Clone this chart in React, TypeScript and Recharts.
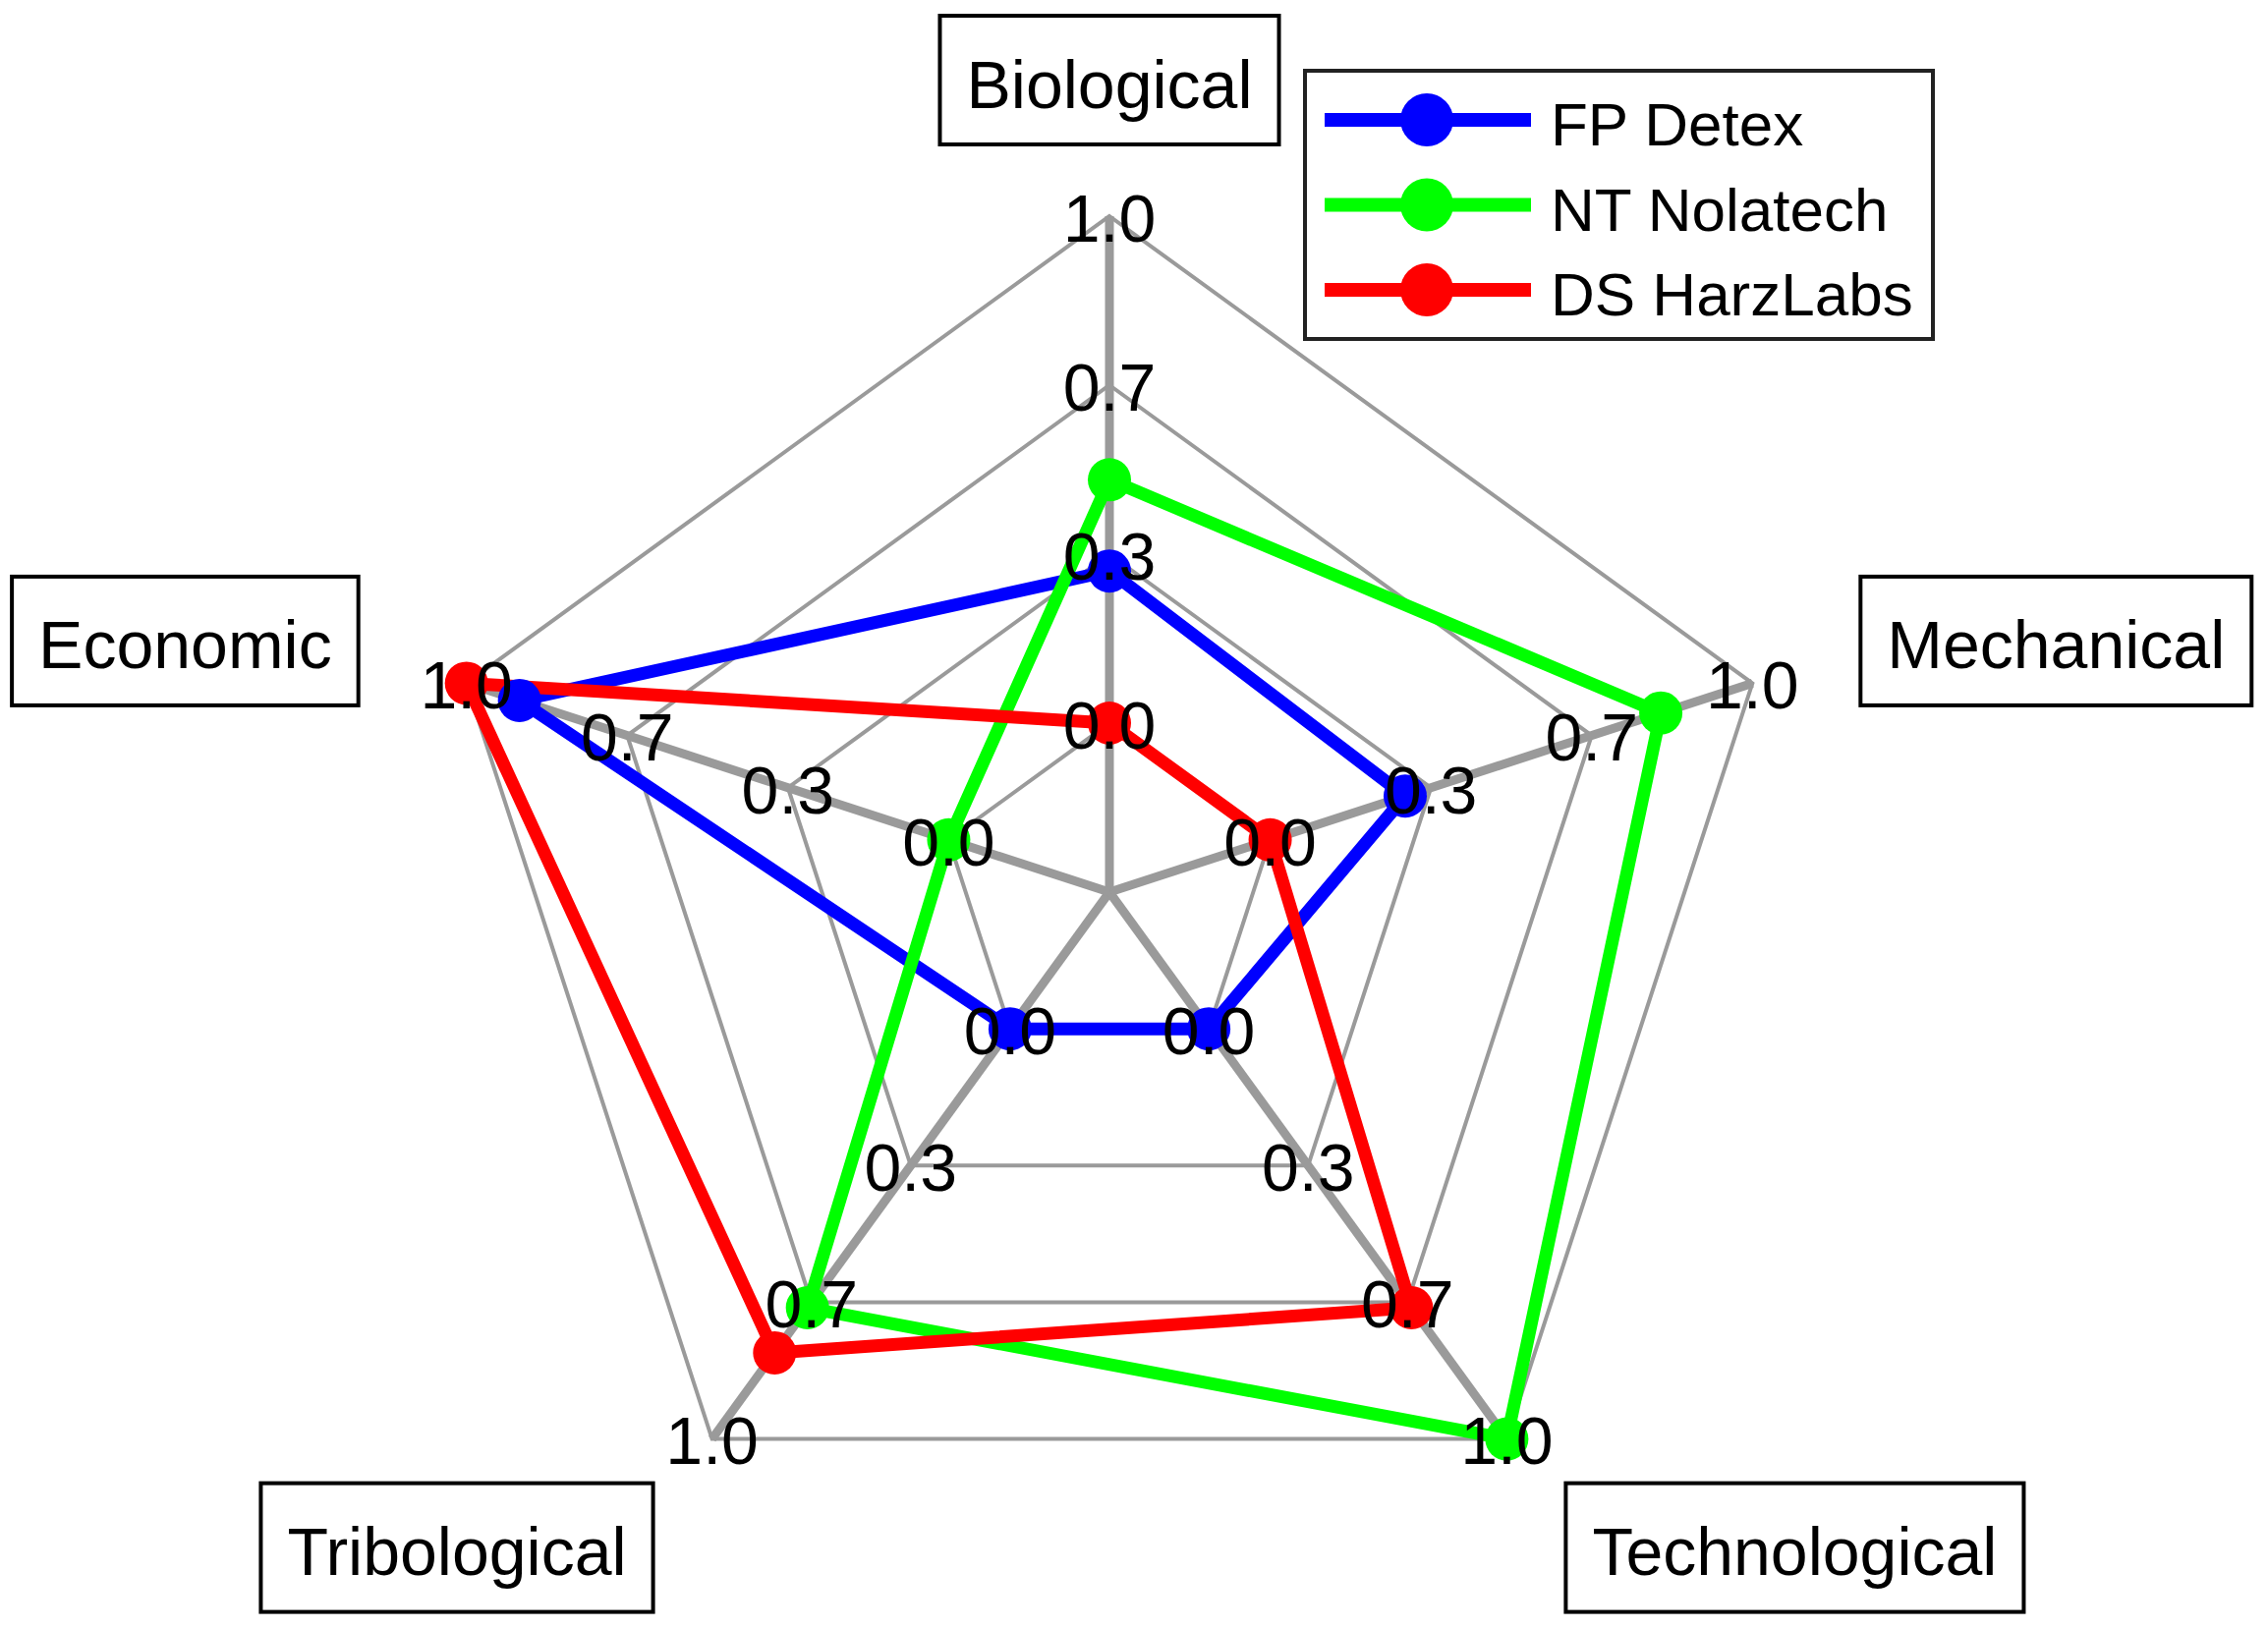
import React from 'react';
import { RadarChart, Radar, PolarGrid, PolarAngleAxis, PolarRadiusAxis, Legend } from 'recharts';

const categories = ['Biological', 'Mechanical', 'Technological', 'Tribological', 'Economic'];
const fpDetex = [0.3, 0.28, 0.0, 0.0, 0.89];
const ntNolatech = [0.48, 0.81, 1.0, 0.68, 0.0];
const dsHarzLabs = [0.0, 0.0, 0.68, 0.79, 1.0];
const radiusTicks = [0, 1 / 3, 2 / 3, 1];
const tickLabels = ['0.0', '0.3', '0.7', '1.0'];

const series = [
  { key: 'fp', name: 'FP Detex', color: '#0000ff' },
  { key: 'nt', name: 'NT Nolatech', color: '#00ff00' },
  { key: 'ds', name: 'DS HarzLabs', color: '#ff0000' },
];

const data = categories.map((c, i) => ({
  subject: c,
  fp: fpDetex[i],
  nt: ntNolatech[i],
  ds: dsHarzLabs[i],
}));

const CX = 1129;
const CY = 908;
const R = 688;
const FONT = '"Liberation Sans", Arial, sans-serif';
const GRAY = '#9a9a9a';

function textWidth(text: string, size: number) {
  try {
    const ctx = document.createElement('canvas').getContext('2d');
    if (!ctx) throw new Error('no ctx');
    ctx.font = `${size}px "Liberation Sans"`;
    return ctx.measureText(text).width;
  } catch {
    return text.length * size * 0.52;
  }
}

// boxed category label placed outside each vertex
const CategoryTick = (props: any) => {
  const { payload } = props;
  const label = String(payload.value);
  // project the tick back onto the outer vertex
  const ex = props.x - CX;
  const ey = props.y - CY;
  const len = Math.hypot(ex, ey) || 1;
  const x = CX + (ex / len) * R;
  const y = CY + (ey / len) * R;
  const w = textWidth(label, 68) + 54;
  const h = 131;
  const dx = x - CX;
  const dy = y - CY;
  let left: number;
  let top: number;
  if (Math.abs(dx) < 1) {
    left = x - w / 2;
    top = y - 73 - h;
  } else if (dy < 0) {
    top = y - 43 - h / 2;
    left = dx > 0 ? x + 110 : x - 110 - w;
  } else {
    top = y + 45;
    left = dx > 0 ? x + 60 : x - 60 - w;
  }
  return (
    <g>
      <rect x={left} y={top} width={w} height={h} fill="#fff" stroke="#000" strokeWidth={4} />
      <text x={left + w / 2} y={top + h / 2 + 28} textAnchor="middle" fontSize={68} fontFamily={FONT} fill="#000">
        {label}
      </text>
    </g>
  );
};

// repeat each radius tick label on every spoke
const RadiusTick = (props: any) => {
  const { payload, y } = props;
  const r = typeof payload.coordinate === 'number' ? payload.coordinate : CY - y;
  const idx = radiusTicks.indexOf(payload.value);
  const label = idx >= 0 ? tickLabels[idx] : Number(payload.value).toFixed(1);
  return (
    <g>
      {categories.map((c, i) => {
        const a = ((90 - i * 72) * Math.PI) / 180;
        return (
          <text
            key={c}
            x={CX + r * Math.cos(a)}
            y={CY - r * Math.sin(a)}
            dy="0.38em"
            textAnchor="middle"
            fontSize={68}
            fontFamily={FONT}
            fill="#000"
          >
            {label}
          </text>
        );
      })}
    </g>
  );
};

const LegendBox = () => (
  <div style={{ width: 643, height: 277, boxSizing: 'border-box', border: '4px solid #222', background: '#fff' }}>
    <svg width={635} height={269} style={{ display: 'block' }}>
      {series.map((s, i) => {
        const yy = 48 + i * 86.5;
        return (
          <g key={s.key}>
            <line x1={18} x2={228} y1={yy} y2={yy} stroke={s.color} strokeWidth={14} />
            <circle cx={122} cy={yy} r={27} fill={s.color} />
            <text x={248} y={yy + 26} fontSize={62} fontFamily={FONT} fill="#000">
              {s.name}
            </text>
          </g>
        );
      })}
    </svg>
  </div>
);

export default function App() {
  return (
    <div style={{ position: 'absolute', left: 0, top: 0, width: 2308, height: 1658, background: '#fff' }}>
      <RadarChart
        width={2308}
        height={1658}
        data={data}
        cx={CX}
        cy={CY}
        innerRadius={0}
        outerRadius={R}
        margin={{ top: 0, right: 0, bottom: 0, left: 0 }}
      >
        <PolarGrid gridType="polygon" radialLines={false} stroke={GRAY} strokeWidth={4} />
        <PolarGrid gridType="polygon" polarRadius={[]} stroke={GRAY} strokeWidth={9} />
        <PolarAngleAxis dataKey="subject" tick={<CategoryTick />} tickLine={false} axisLine={false} />
        {series.map((s) => (
          <Radar
            key={s.key}
            name={s.name}
            dataKey={s.key}
            stroke={s.color}
            strokeWidth={13}
            strokeLinejoin="round"
            fill="none"
            fillOpacity={0}
            dot={{ r: 22, fill: s.color, stroke: s.color, strokeWidth: 0, fillOpacity: 1 }}
            isAnimationActive={false}
            zIndex={100}
          />
        ))}
        <PolarRadiusAxis
          angle={90}
          type="number"
          domain={[-1 / 3, 1]}
          ticks={radiusTicks}
          allowDataOverflow
          tick={<RadiusTick />}
          axisLine={false}
          tickLine={false}
          zIndex={3000}
        />
        <Legend
          layout="vertical"
          align="right"
          verticalAlign="top"
          content={() => <LegendBox />}
          wrapperStyle={{ position: 'absolute', left: 1326, top: 70, width: 643, height: 277 }}
        />
      </RadarChart>
    </div>
  );
}
